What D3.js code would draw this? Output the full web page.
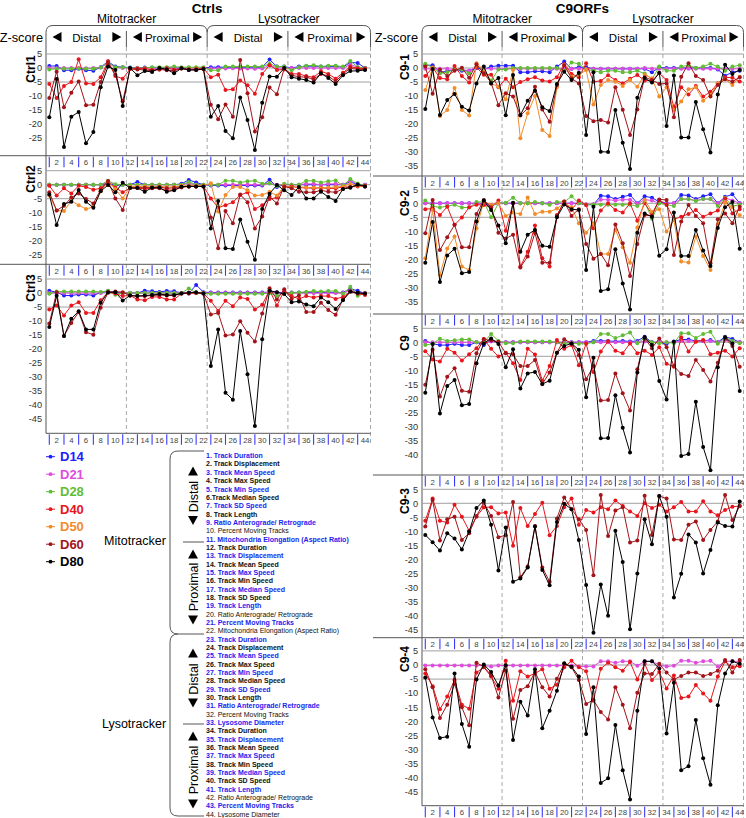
<!DOCTYPE html>
<html><head><meta charset="utf-8">
<script src="https://cdn.jsdelivr.net/npm/d3@7"></script>
<style>body{margin:0;background:#fff}svg{display:block;font-family:"Liberation Sans",Arial,sans-serif}</style>
</head><body><svg id="c" width="746" height="818"></svg>
<script>
// ---------- DATA ----------
const seriesKeys = ["D14","D21","D28","D40","D50","D60","D80"];
const xTickLabels = [2,4,6,8,10,12,14,16,18,20,22,24,26,28,30,32,34,36,38,40,42,44];
const sectionNames = ["Distal","Proximal","Distal","Proximal"];
const groupNames = ["Mitotracker","Lysotracker"];
const metricLabels = ["1. Track Duration","2. Track Displacement","3. Track Mean Speed","4. Track Max Speed","5. Track Min Speed","6.Track Median Speed","7. Track SD Speed","8. Track Length","9. Ratio Anterograde/ Retrograde","10. Percent Moving Tracks","11. Mitochondria Elongation (Aspect Ratio)","12. Track Duration","13. Track Displacement","14. Track Mean Speed","15. Track Max Speed","16. Track Min Speed","17. Track Median Speed","18. Track SD Speed","19. Track Length","20. Ratio Anterograde/ Retrograde","21. Percent Moving Tracks","22. Mitochondria Elongation (Aspect Ratio)","23. Track Duration","24. Track Displacement","25. Track Mean Speed","26. Track Max Speed","27. Track Min Speed","28. Track Median Speed","29. Track SD Speed","30. Track Length","31. Ratio Anterograde/ Retrograde","32. Percent Moving Tracks","33. Lysosome Diameter","34. Track Duration","35. Track Displacement","36. Track Mean Speed","37. Track Max Speed","38. Track Min Speed","39. Track Median Speed","40. Track SD Speed","41. Track Length","42. Ratio Anterograde/ Retrograde","43. Percent Moving Tracks","44. Lysosome Diameter"];

// Ctrl1
const ctrl1_D14 = [0.7,0.7,-0.8,-0.8,-0.3,-0.8,-1.0,0.3,2.3,0.5,0.3,0.2,0,0.2,0.1,0,0.1,-0.1,0,-0.7,-0.5,0,0.3,0.3,0.3,0.3,0.3,0.3,0.3,0.3,3.0,0.5,0.5,0,0.5,0.6,0.7,0.5,0.5,0.6,0.3,2.0,1.8,0];
const ctrl1_D21 = [0,-0.1,0,0,0,-0.1,0,0.2,1.7,0.2,0,0,0,0,0,0,0,0,0,0,0,0,-0.2,-0.2,-0.2,-0.1,-0.2,-0.2,-0.3,-0.2,1.0,0,0,0,0,0,0,0,0,0,0,1.2,0.3,0];
const ctrl1_D28 = [-0.5,-0.3,-0.3,-0.3,-0.2,-0.3,-0.3,0.2,2.0,0.3,0.3,0,0,0,0.3,0.3,0.3,0.5,0.3,0.3,0.3,0.3,-0.8,-0.8,0.5,0.5,0.5,0.5,0.5,0.5,1.5,0.5,0.5,-0.8,0.3,0.8,1.0,0.5,0.8,0.8,0.5,2.5,0.3,0];
const ctrl1_D40 = [-5.7,-10.7,-6.4,-5.0,3.1,-5.5,-5.7,-3.3,2.4,-2.9,-3.8,-0.4,-0.2,-0.2,-0.7,-0.5,-0.1,-0.6,-0.2,-0.5,-0.4,-0.1,-3.3,-2.4,-7.9,-7.6,-4.5,-6.2,-9.2,-2.1,1.0,-0.7,-0.5,-2.1,-2.1,-2.9,-3.3,-1.2,-2.1,-3.8,-1.7,0.5,-0.1,-0.2];
const ctrl1_D60 = [-10.7,-1.3,-14.0,-8.8,-4.8,-13.3,-13.1,-5.0,1.9,-2.4,-11.9,-0.3,-0.5,-0.7,-1.0,-0.5,-0.8,-1.0,-0.2,-0.5,-0.7,-0.4,-13.1,-18.3,-13.0,-17.4,2.9,-9.0,-22.7,-17.6,-7.0,-9.4,-0.1,-2.6,-3.1,-3.3,-4.0,-2.1,-2.9,-4.8,-2.1,-0.1,-0.5,-0.5];
const ctrl1_D80 = [-17.6,-3.9,-28.2,-17.4,-15.7,-26.9,-22.9,-6.9,0.5,-0.7,-13.6,0,-2.6,-1.1,-1.4,0,-0.5,-1.9,-0.1,-0.7,-0.7,-0.4,-17.4,-13.6,-22.5,-25.1,-10.5,-18.6,-29.3,-12.4,-3.0,-3.1,0,-3.3,-3.8,-4.3,-5.2,-1.9,-3.6,-5.7,-2.6,-1.1,-1.0,-0.7];
// Ctrl2
const ctrl2_D14 = [0,0,0,0,0,0,0,0,0.5,-0.3,0,0,1.0,0,0,0,0,0,0.3,1.7,0.8,0,-0.3,-0.3,-0.3,-0.3,-0.3,-0.3,-0.3,-0.3,1.8,-0.8,0,0,0,0,0,0,0,0,0,1.0,0,0];
const ctrl2_D21 = [0,0,0,0,0,0,0,0,1.0,0,0,0,0,0,0,0,0,0,0,0.5,0,0,0,0,0,0,0,0,0,0,0.5,0,0,0,0,0.3,0.3,0,0.3,0.3,0,1.5,0,0];
const ctrl2_D28 = [0,0,0,0,0,0,0,0,1.4,0.2,0,0,0,0,0,0,0,0,0,1.0,0,0,0,0,1.4,1.4,0.8,1.2,1.4,0.3,0.5,-0.5,0.3,0,0,1.4,1.4,0.8,1.2,1.5,-0.3,2.0,0.4,-0.3];
const ctrl2_D40 = [-0.4,-3.9,-1.3,-3.1,-0.4,-0.8,-1.8,-1.3,1.1,-1.1,-2.7,-1.2,-1.2,-1.5,-1.3,-1.3,-2.0,-1.8,-1.0,-0.6,-0.6,-0.6,-4.9,-8.2,-7.3,-6.3,-3.7,-2.7,-8.7,-7.3,-5.1,-4.6,-0.8,-0.6,-1.1,-1.1,-1.3,-1.1,-1.3,-1.3,-0.8,-0.8,-0.6,-0.4];
const ctrl2_D50 = [-3.9,-9.2,-9.4,-5.8,-7.3,-8.7,-7.9,-2.3,1.1,-1.5,-4.9,-0.8,-0.6,-0.6,-0.8,-0.6,-0.8,-0.8,-0.4,-0.4,-0.4,-0.4,0.5,-9.6,-3.7,-0.8,-0.8,-2.0,-3.9,-3.7,-2.5,-3.9,-0.4,-1.0,-0.7,-1.0,-1.0,-1.3,-1.0,-0.8,-0.6,0.3,-0.4,-0.6];
const ctrl2_D60 = [-2.7,-9.2,-7.5,-4.6,-3.1,-5.1,-6.7,-1.8,1.3,-4.9,-9.0,-1.1,-1.0,-1.1,-1.0,-0.8,-1.3,-1.1,-0.7,-0.6,-0.6,-0.6,-11.7,-22.7,-9.4,-13.8,-3.5,-6.3,-15.6,-11.4,-4.3,-6.7,-0.6,-1.3,-2.5,-2.7,-2.7,-2.0,-2.5,-2.7,-1.5,-0.8,-0.1,-0.6];
const ctrl2_D80 = [-3.5,-14.4,-6.9,-6.1,-1.9,-6.1,-8.2,-2.3,-0.1,-2.7,0.7,-1.2,-1.2,-2.5,-1.1,-1.1,-2.5,-2.0,-0.7,-0.6,-0.6,-0.6,-15.6,-5.8,-22.7,-23.0,-12.4,-20.4,-26.8,-8.7,-3.2,-0.1,-2.0,-3.7,-0.8,-4.9,-4.9,-2.5,-4.4,-5.8,-1.5,-1.1,0.1,-0.6];
// Ctrl3
const ctrl3_D14 = [0.8,0.3,-0.9,-0.9,-0.5,-0.5,-0.9,0.2,0.5,0.3,0,0,0,0.8,0.6,0.4,0.7,0.6,0,-0.2,2.9,0.3,0.2,0.2,0.2,0.2,0.2,0.2,0.2,0.2,0.3,0.2,0.2,0.2,0.2,0.2,0.2,0.2,0.2,0.2,0.2,1.5,0.8,-0.2];
const ctrl3_D21 = [0,0,0,0,0,0,0,0,0.8,0,0,0,0,0,0,0,0,0,0,0,0,0,0,0,0,0,0,0,0,0,0.3,0,0,0,0,0,0,0,0,0,0,1.0,0,0];
const ctrl3_D28 = [-0.3,0.5,0.5,0.5,0.5,0.5,0.5,0.4,0.8,-0.6,0,0,0,0,0,0,0,0,0,1.6,0,0,-0.3,-0.3,-0.3,-0.3,-0.3,-0.3,-0.3,-0.3,0,-1.0,0,0,0.2,0.4,0.7,0.5,0.7,0.7,-0.3,2.2,-1.0,-0.2];
const ctrl3_D40 = [-5.9,-4.5,-8.0,-4.5,-3.3,-7.1,-7.1,-2.6,0.3,-0.2,-1.1,-0.9,-2.3,-2.6,-1.4,-1.4,-2.3,-2.3,-0.2,-0.2,0.1,-0.2,-2.8,-6.4,-2.8,-4.7,-1.6,-2.1,-5.9,-4.2,1.0,-4.5,0.8,-1.1,-2.1,-1.1,-1.6,-1.1,-1.1,-2.1,-1.4,0.5,-0.2,-0.7];
const ctrl3_D60 = [-10.9,0.3,-15.4,-10.7,-6.8,-14.0,-14.9,-5.3,0.1,0.5,0.3,-0.9,-1.1,-1.1,-0.9,-0.7,-0.9,-0.9,-0.2,0.1,0.1,-0.2,-7.7,-7.1,-15.2,-14.8,-10.1,-14.2,-17.3,-7.3,1.7,-2.3,1.3,-2.1,-0.9,-6.8,-6.8,-3.5,-6.1,-7.8,-2.3,0.5,-0.2,-0.2];
const ctrl3_D80 = [-12.1,-1.0,-15.4,-9.2,-6.5,-13.0,-13.0,-3.5,0.3,0.3,-2.7,-0.9,-1.1,-0.9,-0.7,-0.4,-0.7,-0.7,-0.2,0.1,0.3,-0.2,-26.1,-13.0,-35.6,-38.1,-13.6,-29.0,-47.5,-16.5,0.8,0.3,-0.4,-3.3,-3.0,-4.1,-4.7,-1.6,-3.3,-5.7,-2.6,0.5,0.1,-0.2];
// C9-1
const c91_D14 = [1.0,1.0,-1.5,-1.2,-0.5,-1.0,-1.0,0,-0.5,0.5,0.8,0.8,0.8,-1.5,-1.5,-1.2,-1.2,-1.5,0.5,2.3,-0.3,0.3,0.3,-0.3,-0.3,-0.3,-0.3,-0.3,-0.3,-0.3,-0.3,-1.5,0.2,0,0,0,0,0,0,0,-0.5,-2.8,-1.5,-1.0];
const c91_D21 = [-0.3,-0.3,-0.3,-0.3,-0.5,-0.5,-1.0,0.5,-0.3,-0.3,-0.3,-0.3,-0.3,-0.3,-0.3,-0.3,-0.3,-0.3,-0.3,-0.3,-0.3,-0.3,-0.3,-0.3,-0.3,-0.3,-0.3,-0.3,-0.3,-0.3,0,-0.3,-0.3,-0.3,-0.3,-0.3,-0.3,-0.3,-0.3,-0.3,-0.3,-0.3,-0.3,-0.3];
const c91_D28 = [1.5,0.2,-2.0,-1.5,-0.5,-0.5,-2.0,0.5,-0.5,-4.5,-0.5,-0.5,0,0,0,0,0,0,0,-1.0,2.0,1.5,-0.5,-1.0,-1.5,-1.0,-1.0,-1.5,-1.5,-1.0,-2.0,-4.0,0.5,-1.0,-1.0,0.5,1.0,0,0.5,1.5,0.5,-1.0,0.5,1.0];
const c91_D40 = [-2.9,0.2,-3.6,-4.0,0.7,-2.9,-5.2,0.2,-2.4,-2.4,-6.9,-3.8,-6.9,-5.0,-4.0,-3.3,-4.5,-4.8,-3.3,1.4,-2.1,-3.3,1.7,-4.9,-4.6,-2.6,-4.3,-5.5,-3.8,-2.5,-4.5,-4.5,-1.9,-4.3,-14.0,-6.9,-9.5,-6.4,-10.2,-8.5,-5.5,-3.3,-3.5,-4.8];
const c91_D50 = [-7.9,0.1,-17.1,-15.0,-7.1,-15.0,-17.0,1.7,-0.7,-5.5,-6.7,-11.2,-0.7,-25.1,-16.2,-10.0,-22.1,-24.3,-6.9,1.1,-3.1,-2.5,-0.7,-13.0,-6.1,-4.3,-4.9,-6.4,-4.3,-6.7,-2.4,-3.7,-10.2,-6.9,-15.0,-12.0,-7.6,-6.9,-11.7,-9.6,-5.5,-4.0,-6.1,-3.1];
const c91_D60 = [0.5,-9.2,-0.6,-2.9,-1.0,0.1,-3.5,1.3,-1.9,-5.2,-13.3,-9.0,-10.2,-17.0,-14.4,-6.7,-14.8,-19.2,-6.1,1.0,-3.7,-5.5,-17.1,-19.0,-18.6,-19.5,-6.9,-14.9,-23.9,-14.8,-3.3,-4.3,-5.7,-5.5,-17.6,-3.1,1.7,-2.9,-4.3,-10.2,-6.1,-4.0,-4.9,-3.3];
const c91_D80 = [-14.6,-0.4,-16.8,-11.4,-9.3,-13.8,-15.2,-5.5,0.5,-5.5,-3.6,-16.9,-2.5,-16.8,-11.7,-8.1,-14.0,-15.4,-5.7,-1.3,-4.3,-1.7,-23.9,-1.5,-29.9,-30.0,-15.0,-26.7,-36.1,-10.6,-3.6,-5.2,-1.7,-20.7,-2.7,-24.8,-24.8,-12.1,-21.9,-30.2,-9.5,1.2,-2.1,-0.7];
// C9-2
const c92_D14 = [0,0,0,0,0,0,0,0,0,-1.0,0,0,0,0,0,0,0,0,0,0,0,0,-0.5,-0.5,2.7,2.5,1.5,2.3,3.0,0,2.5,2.0,0.5,0,0,3.0,2.8,1.5,2.5,3.2,0,2.3,3.2,0];
const c92_D21 = [0,0,0,0,0,0,0,0,0,-0.5,0,0,0,0,0,0,0,0,0,0,0,0,-0.3,-0.3,1.3,1.3,1.0,1.3,1.3,-0.2,1.3,1.0,0,0,0,1.5,1.5,1.0,1.5,1.5,0,2.0,1.0,0];
const c92_D28 = [1.0,-1.0,-1.5,-1.0,-0.5,-1.5,-1.5,0.5,0.5,-5.0,0,0.2,2.0,0,0,0.5,0,-0.5,0.5,0.5,2.5,0,-0.5,-0.5,-0.5,-0.5,-0.5,-0.5,-0.5,-1.0,0.5,-5.5,0,-0.5,-1.0,1.5,1.5,0.8,1.5,1.5,-1.0,2.0,-1.0,-0.5];
const c92_D40 = [-2.1,-1.9,-4.2,-1.2,-7.7,-5.1,-1.4,-0.5,-0.6,-1.4,1.0,-9.8,0,-22.6,-17.3,-7.9,-19.6,-22.6,-4.2,0.6,-2.4,1.0,-0.6,-8.9,-2.6,0,-2.4,-3.3,0,-6.2,0,-3.8,1.2,-0.6,-5.7,-4.8,-3.8,-2.4,-4.8,-3.6,-2.6,1.7,-3.6,-2.1];
const c92_D50 = [-19.6,-2.4,-25.6,-16.1,-11.9,-22.6,-23.8,-8.9,0.6,-0.6,0,-4.5,-3.3,-3.8,2.1,-3.8,-3.0,-3.0,-1.9,0.2,-1.4,-7.1,-10.5,-7.1,-18.1,-18.1,-9.5,-15.7,-21.2,-8.6,1.2,-3.0,-2.1,-10.1,-6.0,-20.8,-21.1,-11.9,-18.8,-23.8,-7.5,0.2,-1.4,-4.3];
const c92_D60 = [-10.7,1.2,-16.7,-12.1,-7.7,-15.7,-15.7,-3.8,1.2,-1.4,-10.5,-12.6,-11.2,-22.9,-19.0,-10.5,-21.2,-21.2,-4.5,0.6,-4.5,-2.1,-14.5,-19.8,-18.1,-22.1,-7.6,-14.3,-26.0,-14.5,-4.2,-4.5,1.4,1.2,-18.5,-6.5,-0.6,-4.5,-7.1,-21.4,-5.7,-3.6,-7.1,-1.2];
const c92_D80 = [-21.2,-6.7,-28.1,-18.6,-16.2,-25.0,-24.5,-6.5,1.0,-2.4,-7.9,-14.3,0.2,-17.3,-11.2,-9.5,-15.2,-15.5,-5.0,-0.4,-2.1,-2.4,-23.8,-1.2,-31.3,-30.7,-16.4,-28.6,-37.9,-10.5,-3.6,-4.8,-18.7,-16.4,-3.3,-18.8,-18.8,-9.5,-16.9,-22.4,-8.8,-1.4,0.5,-16.2];
// C9
const c9_D14 = [0.5,-0.5,-1.0,-1.0,-0.5,-1.0,-1.0,0,-1.0,1.0,0,0,0,0,0,0,0,0,0,0,0,0,0,0.5,0.5,0.5,0.3,0.5,0.3,0.5,2.0,0,0,-0.5,0.3,1.0,1.0,0.5,0.5,0.8,0,2.0,1.2,0];
const c9_D21 = [0,0,0,0,0,0,0,0,0,0.3,0,0,0,0,0,0,0,0,0,0,0,0,0,0,0,0,0,0,0,0,0.3,0,0,0,0,0.5,0.5,0.3,0.5,0.5,0,0.8,0.3,0];
const c9_D28 = [-1.0,-0.5,1.3,0.5,0.7,1.0,1.0,0,0,3.0,0.5,-0.3,-0.3,0.3,0.3,0.3,0.3,0.3,0,-0.3,-0.3,-0.5,-0.5,0,3.0,3.0,1.5,2.5,3.5,-0.3,1.5,0,-0.3,0,-0.3,3.2,3.2,1.5,3.0,3.8,-0.5,1.8,0.5,-0.3];
const c9_D40 = [-3.2,-6.1,-6.9,-2.3,-3.7,-6.5,-4.3,-2.1,1.2,-2.3,-5.1,-3.7,-7.5,-13.5,-2.3,-4.4,-13.7,-8.5,0.8,-2.3,-1.0,-8.2,-0.4,-10.6,-3.3,0.4,-3.0,-3.9,-0.4,-3.9,-3.0,-4.5,-1.8,-7.7,-8.7,1.8,-3.3,0.2,0.8,-4.3,-3.7,-3.0,-5.1,-2.1];
const c9_D60 = [-15.2,-2.7,-19.4,-12.3,-9.3,-17.3,-17.7,-3.9,1.1,0.6,0.2,-3.9,-4.3,-8.5,-8.5,-6.3,-14.9,-10.8,-3.7,1.1,-0.4,-4.6,-13.2,-8.5,-20.8,-20.6,-11.1,-18.2,-24.4,-9.6,1.4,-2.1,1.4,-1.8,-8.5,-11.3,-12.0,-6.3,-9.9,-14.0,-7.3,1.4,-1.3,-8.7];
const c9_D80 = [-18.0,-0.6,-25.4,-15.6,-13.5,-22.5,-22.0,-7.5,-0.4,1.4,-0.6,-8.9,-2.5,-16.5,-11.1,-10.6,-14.9,-13.7,-3.7,-1.3,-0.4,-2.7,-19.6,-5.5,-34.3,-34.2,-18.9,-30.5,-39.4,-10.8,1.8,-1.0,-13.8,-20.4,0.2,-40.6,-39.9,-21.2,-37.4,-45.7,-8.9,1.8,-0.4,-17.4];
// C9-3
const c93_D40 = [-6.2,1.7,-6.2,-6.9,-0.5,-4.8,-9.8,-4.8,-1.4,-1.4,-3.6,-3.3,-15.2,-1.7,-8.1,-3.8,0.2,-11.4,-8.1,-1.4,1.7,-7.7,-2.4,-3.3,-1.4,-2.1,1.0,-1.0,-2.9,-4.5,0,-1.7,-0.5,-2.9,-1.4,0.5,-2.9,-2.9,0.7,-2.9,-4.3,-2.4,-1.2,-1.0];
const c93_D60 = [-8.3,1.2,-13.3,-5.7,-4.8,-13.1,-10.7,-4.5,0.2,-4.5,-12.1,-11.4,0.5,-26.4,-22.6,-8.1,-22.9,-28.0,-5.4,2.1,-2.1,-5.7,-9.5,-25.7,3.0,-11.7,-2.6,-1.4,-14.0,-13.3,2.7,-11.3,2.6,1.7,-12.9,-13.1,-7.7,-6.5,-13.1,-9.5,-6.5,3.0,-6.0,-1.0];
const c93_D80 = [-11.3,-13.9,-16.9,-10.7,-12.6,-16.5,-10.1,-1.7,1.0,-7.7,-24.0,-8.6,-28.0,-26.9,-22.9,-8.3,-23.8,-29.3,-6.7,-0.2,-2.1,-13.1,-29.2,-46.2,-29.0,-40.2,-9.8,-21.0,-45.0,-25.1,-5.7,-14.6,2.6,-4.8,-33.6,-25.2,-11.1,-14.0,-25.1,-16.7,-6.9,-8.1,-8.3,0.6];
// C9-4
const c94_D21 = [-0.2,-0.2,-0.2,-0.2,-0.2,-0.2,-0.2,-0.2,-0.2,-0.5,-0.2,-0.2,-0.2,-0.2,-0.2,-0.2,-0.2,-0.2,-0.2,-0.2,-0.2,-0.5,-0.5,-0.5,1.3,1.3,0.8,1.3,1.3,-0.3,1.3,1.3,0,-0.5,-0.3,1.5,1.5,0.8,1.3,1.5,-0.5,1.3,1.3,1.3];
const c94_D40 = [-3.0,-7.5,-15.7,-11.2,-5.3,-14.1,-15.5,-2.7,-0.8,-4.1,-8.4,1.5,-12.7,-2.2,-4.1,-3.0,-1.5,-8.4,-7.0,-0.8,1.5,-0.8,-2.2,-12.7,-1.3,0.8,-0.8,-2.0,1.1,-5.1,0.4,-5.3,-2.5,-8.3,-3.7,-11.7,-11.2,-7.1,-10.1,-12.7,-4.1,1.3,-0.8,-0.4];
const c94_D60 = [-1.5,-7.9,-18.8,-14.1,-6.7,-15.0,-21.4,0.8,-0.6,-3.6,-11.5,-2.0,-19.1,-8.9,-7.5,-2.5,-7.9,-11.2,-4.9,0.4,-0.8,-5.3,-13.8,-12.4,-16.7,-19.3,-7.9,-14.1,-22.4,-9.8,-3.0,-3.2,0.4,-2.7,-5.1,-3.9,-2.7,-2.7,-3.9,-3.2,-2.0,1.8,-2.7,1.8];
const c94_D80 = [-4.4,-18.6,-25.9,-25.4,-3.0,-20.9,-29.0,-5.1,0.2,-2.5,-7.3,-0.1,-26.6,-13.0,-17.9,-1.5,-22.4,-16.2,-9.1,0.6,-0.6,-4.1,-24.5,-7.9,-41.8,-40.2,-21.3,-37.3,-47.7,-16.2,1.3,1.3,-1.2,-24.3,-6.3,-37.3,-35.9,-19.5,-33.1,-42.5,-14.3,-3.0,1.3,0.4];

// ---------- STYLE / LAYOUT ----------
const colors = {D14:"#2020ff",D21:"#e04ce0",D28:"#62bd35",D40:"#e8161c",D50:"#f28c2a",D60:"#a3141a",D80:"#000000"};
const cols = {
  left:  {x0:0,   plotL:46,  xFirst:49.3,  xLast:365,   plotR:370.5, title:"Ctrls",  labelX:31,  zX:43},
  right: {x0:373, plotL:422, xFirst:425.3, xLast:739.7, plotR:743.5, title:"C9ORFs", labelX:405, zX:418}
};
const panels = [
  {name:"Ctrl1", col:"left",  top:47,    zero:68,    bottom:155.7, k:2.8,  minTick:-25, lab:69,  data:{D14:ctrl1_D14,D21:ctrl1_D21,D28:ctrl1_D28,D40:ctrl1_D40,D60:ctrl1_D60,D80:ctrl1_D80}},
  {name:"Ctrl2", col:"left",  top:167.5, zero:184.7, bottom:264.3, k:2.8,  minTick:-25, lab:179, data:{D14:ctrl2_D14,D21:ctrl2_D21,D28:ctrl2_D28,D40:ctrl2_D40,D50:ctrl2_D50,D60:ctrl2_D60,D80:ctrl2_D80}},
  {name:"Ctrl3", col:"left",  top:276,   zero:293,   bottom:433.3, k:2.8,  minTick:-45, lab:288, last:true, data:{D14:ctrl3_D14,D21:ctrl3_D21,D28:ctrl3_D28,D40:ctrl3_D40,D60:ctrl3_D60,D80:ctrl3_D80}},
  {name:"C9-1",  col:"right", top:47,    zero:68,    bottom:176,   k:2.8,  minTick:-35, lab:67,  data:{D14:c91_D14,D21:c91_D21,D28:c91_D28,D40:c91_D40,D50:c91_D50,D60:c91_D60,D80:c91_D80}},
  {name:"C9-2",  col:"right", top:187.5, zero:203.3, bottom:314,   k:2.8,  minTick:-35, lab:203, data:{D14:c92_D14,D21:c92_D21,D28:c92_D28,D40:c92_D40,D50:c92_D50,D60:c92_D60,D80:c92_D80}},
  {name:"C9",    col:"right", top:326.5, zero:342.3, bottom:475,   k:2.8,  minTick:-40, lab:343, data:{D14:c9_D14,D21:c9_D21,D28:c9_D28,D40:c9_D40,D60:c9_D60,D80:c9_D80}},
  {name:"C9-3",  col:"right", top:488,   zero:503.3, bottom:637.7, k:2.8,  minTick:-45, lab:501, data:{D40:c93_D40,D60:c93_D60,D80:c93_D80}},
  {name:"C9-4",  col:"right", top:650,   zero:665,   bottom:805.7, k:2.82, minTick:-45, lab:659, last:true, data:{D21:c94_D21,D40:c94_D40,D60:c94_D60,D80:c94_D80}}
];

const svg = d3.select("#c");
const AX = "#555";

function triangle(g, cx, cy, dir, s, fill) {
  const h = s/2;
  let pts;
  if (dir==="left")  pts = [[cx-h,cy],[cx+h,cy-h*1.1],[cx+h,cy+h*1.1]];
  if (dir==="right") pts = [[cx+h,cy],[cx-h,cy-h*1.1],[cx-h,cy+h*1.1]];
  if (dir==="up")    pts = [[cx,cy-h],[cx-h*1.1,cy+h],[cx+h*1.1,cy+h]];
  if (dir==="down")  pts = [[cx,cy+h],[cx-h*1.1,cy-h],[cx+h*1.1,cy-h]];
  g.append("path").attr("d", d3.line()(pts)+"Z").attr("fill", fill||"#000");
}

// ---------- COLUMNS (headers) ----------
Object.values(cols).forEach(c => {
  c.x = d3.scaleLinear().domain([1,44]).range([c.xFirst, c.xLast]);
  const g = svg.append("g");
  const b1 = c.x(11.5), b2 = c.x(22.5), b3 = c.x(33.5);
  const colPanels = panels.filter(p => cols[p.col]===c);
  const lastBottom = d3.max(colPanels, p => p.bottom);
  g.append("text").attr("x", b2).attr("y", 12.5).attr("text-anchor","middle")
    .attr("font-size", 13.5).attr("font-weight","bold").text(c.title);
  g.append("text").attr("x", (c.plotL+b2)/2).attr("y", 22.5).attr("text-anchor","middle").attr("font-size",12).text(groupNames[0]);
  g.append("text").attr("x", (b2+c.plotR)/2).attr("y", 22.5).attr("text-anchor","middle").attr("font-size",12).text(groupNames[1]);
  const r = 7, ty = 25.5;
  g.append("path").attr("fill","none").attr("stroke",AX).attr("stroke-width",1)
    .attr("d", `M${c.plotL},${ty+r} Q${c.plotL},${ty} ${c.plotL+r},${ty} H${b2-r} Q${b2},${ty} ${b2},${ty+r} V47
               M${b2},${ty+r} Q${b2},${ty} ${b2+r},${ty} H${c.plotR-r} Q${c.plotR},${ty} ${c.plotR},${ty+r} V47`);
  [b1,b3].forEach(bx => g.append("line").attr("x1",bx).attr("x2",bx).attr("y1",31).attr("y2",47).attr("stroke",AX));
  g.append("text").attr("x", c.zX).attr("y", 41.5).attr("text-anchor","end").attr("font-size",12.8).text("Z-score");
  const bounds = [c.plotL, b1, b2, b3, c.plotR];
  sectionNames.forEach((nm,i) => {
    const s0 = bounds[i], s1 = bounds[i+1];
    g.append("text").attr("x",(s0+s1)/2+0.5).attr("y",41.5).attr("text-anchor","middle").attr("font-size",11.5).text(nm);
    triangle(g, s0+11, 37, "left", 9);
    triangle(g, s1-9.5, 37, "right", 9);
  });
  g.append("line").attr("x1",c.plotL).attr("x2",c.plotL).attr("y1",ty+r).attr("y2",lastBottom).attr("stroke",AX);
  [b1,b2,b3,c.plotR].forEach(bx => g.append("line").attr("x1",bx).attr("x2",bx).attr("y1",47).attr("y2",lastBottom+ (bx===c.plotR?12:0))
     .attr("stroke","#a8a8a8").attr("stroke-dasharray","4,3"));
});

// ---------- PANELS ----------
panels.forEach(p => {
  const c = cols[p.col];
  const x = c.x;
  const y = d3.scaleLinear().domain([(p.zero-p.top)/p.k, -(p.bottom-p.zero)/p.k]).range([p.top, p.bottom]);
  const g = svg.append("g");
  [5,0,-5].forEach(v => g.append("line").attr("x1",c.plotL).attr("x2",c.plotR).attr("y1",y(v)).attr("y2",y(v))
     .attr("stroke","#a0a0a0").attr("stroke-width",1));
  d3.range(5, p.minTick-1, -5).forEach(v => g.append("text").attr("x",c.plotL-4).attr("y",y(v)).attr("dy","0.35em")
     .attr("text-anchor","end").attr("font-size",9.2).attr("fill","#333").text(v));
  g.append("text").attr("transform",`translate(${c.labelX},${p.lab}) rotate(-90)`).attr("text-anchor","middle")
     .attr("dy","0.35em").attr("font-size",12).attr("font-weight","bold").text(p.name);
  g.append("line").attr("x1", p.last ? c.plotL : c.x0).attr("x2", c.plotR).attr("y1",p.bottom).attr("y2",p.bottom).attr("stroke",AX);
  d3.range(1,45,2).forEach(i => g.append("line").attr("x1",x(i)).attr("x2",x(i)).attr("y1",p.bottom+1).attr("y2",p.bottom+11.5)
     .attr("stroke","#3a3aff").attr("stroke-width",1.1));
  xTickLabels.forEach(t => g.append("text").attr("x",x(t)).attr("y",p.bottom+7).attr("dy","0.35em").attr("text-anchor","middle")
     .attr("font-size",7.8).attr("fill","#444").text(t));
  const line = d3.line().x((d,i)=>x(i+1)).y(d=>y(d));
  seriesKeys.forEach(k => {
    const vals = p.data[k];
    if (!vals) return;
    const sg = g.append("g");
    sg.append("path").attr("d", line(vals)).attr("fill","none").attr("stroke",colors[k]).attr("stroke-width",1);
    sg.selectAll("circle").data(vals).join("circle").attr("cx",(d,i)=>x(i+1)).attr("cy",d=>y(d)).attr("r",2).attr("fill",colors[k]);
  });
});

// ---------- LEGEND ----------
const lg = svg.append("g");
seriesKeys.forEach((k,i) => {
  const yy = 456.7 + i*17.5;
  lg.append("line").attr("x1",46).attr("x2",55).attr("y1",yy).attr("y2",yy).attr("stroke",colors[k]);
  lg.append("circle").attr("cx",50.5).attr("cy",yy).attr("r",1.9).attr("fill",colors[k]);
  lg.append("text").attr("x",60).attr("y",yy).attr("dy","0.36em").attr("font-size",13).attr("font-weight","bold").attr("fill",colors[k]).text(k);
});

// ---------- METRIC LIST ----------
const ml = svg.append("g");
const plainItems = [10,20,22,32,42,44];
metricLabels.forEach((t,i) => {
  ml.append("text").attr("x",206).attr("y",455.7+i*8.34).attr("dy","0.35em").attr("font-size",7)
    .attr("font-weight", plainItems.includes(i+1) ? "normal" : "bold")
    .attr("fill", (i%2===0) ? "#2323f0" : "#111").text(t);
});
ml.append("path").attr("fill","none").attr("stroke",AX)
  .attr("d","M204,451 H178 Q170,451 170,459 V626 Q170,634 178,634 H204 M178,634 Q170,634 170,642 V808 Q170,816 178,816 H204 M183,542 H204 M183,724 H204");
ml.append("text").attr("x",135).attr("y",541).attr("dy","0.35em").attr("text-anchor","middle").attr("font-size",12.5).text(groupNames[0]);
ml.append("text").attr("x",134).attr("y",724).attr("dy","0.35em").attr("text-anchor","middle").attr("font-size",12.5).text(groupNames[1]);
const sideLabels = [
  {name:sectionNames[0], up:471, mid:496.5, down:520.5},
  {name:sectionNames[1], up:554, mid:587,   down:620},
  {name:sectionNames[2], up:653, mid:679,   down:703},
  {name:sectionNames[3], up:736, mid:770,   down:804}
];
sideLabels.forEach(s => {
  triangle(ml, 193, s.up, "up", 9);
  triangle(ml, 193, s.down, "down", 9);
  ml.append("text").attr("transform",`translate(193,${s.mid}) rotate(-90)`).attr("text-anchor","middle").attr("dy","0.36em")
    .attr("font-size",12.5).text(s.name);
});
</script>
</body></html>
